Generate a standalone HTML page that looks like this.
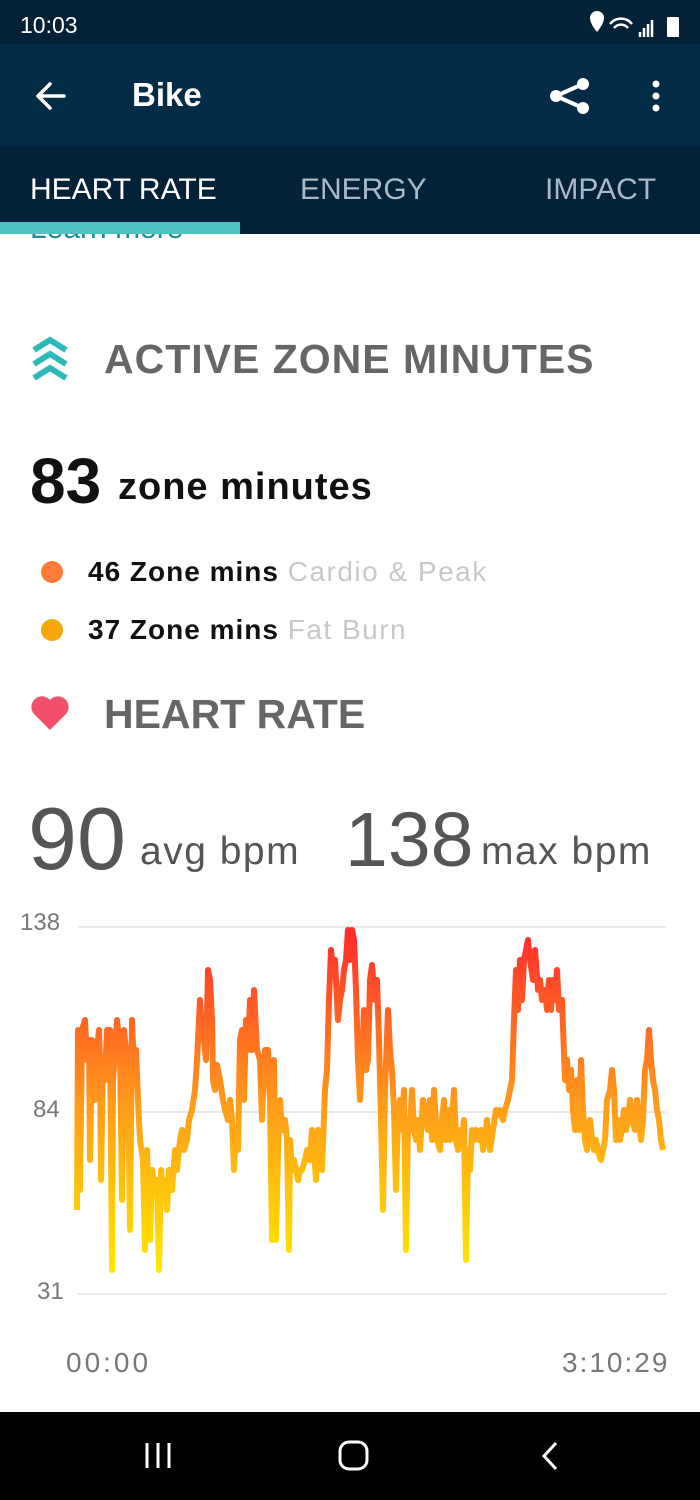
<!DOCTYPE html>
<html><head><meta charset="utf-8"><style>
*{margin:0;padding:0;box-sizing:border-box}
body{width:700px;height:1500px;background:#fff;font-family:"Liberation Sans",sans-serif;position:relative;overflow:hidden}
.abs{position:absolute;white-space:nowrap}
</style></head><body>
<div class="abs" style="left:0;top:0;width:700px;height:44px;background:#032238"></div>
<div class="abs" style="left:20px;top:12px;color:#fff;font-size:23px">10:03</div>
<div class="abs" style="left:0;top:44px;width:700px;height:102px;background:#022b45"></div>
<div class="abs" style="left:0;top:146px;width:700px;height:88px;background:#032238"></div>
<svg class="abs" style="left:0;top:0" width="700" height="240">
<path d="M38 96 H64 M38 96 L50 84 M38 96 L50 108" stroke="#fff" stroke-width="3.5" fill="none" stroke-linecap="round"/>
<path d="M583 84 L556 96 L583 108" stroke="#fff" stroke-width="4" fill="none"/>
<circle cx="583" cy="84" r="6" fill="#fff"/><circle cx="556" cy="96" r="6" fill="#fff"/><circle cx="583" cy="108" r="6" fill="#fff"/>
<circle cx="656" cy="84" r="3.5" fill="#fff"/><circle cx="656" cy="96" r="3.5" fill="#fff"/><circle cx="656" cy="108" r="3.5" fill="#fff"/>
<path d="M590 18 a7 7 0 0 1 14 0 c0 6 -7 14 -7 14 c0 0 -7 -8 -7 -14z" fill="#fff"/>
<rect x="667" y="17" width="12" height="20" rx="1" fill="#fff"/>
<path d="M640 37 V32 M644 37 V28 M648 37 V24 M652 37 V20" stroke="#fff" stroke-width="2.5"/>
<path d="M610 24 a14 14 0 0 1 22 0 M614 28 a9 9 0 0 1 14 0" stroke="#fff" stroke-width="2.5" fill="none"/>
<rect x="0" y="222" width="240" height="12" fill="#4ec3c3"/>
</svg>
<div class="abs" style="left:132px;top:76px;color:#fff;font-size:33px;font-weight:bold">Bike</div>
<div class="abs" style="left:30px;top:173px;color:#fff;font-size:30px">HEART RATE</div>
<div class="abs" style="left:300px;top:173px;color:#a9bac6;font-size:30px">ENERGY</div>
<div class="abs" style="left:545px;top:173px;color:#a9bac6;font-size:30px">IMPACT</div>
<div class="abs" style="left:30px;top:234px;width:170px;height:14px;overflow:hidden"><div style="margin-top:-22px;color:#1e8d8d;font-size:30px">Learn more</div></div>
<svg class="abs" style="left:30px;top:336px" width="42" height="46">
<path d="M4 14 L20 4 L36 14 M4 28 L20 18 L36 28 M4 42 L20 32 L36 42" stroke="#2bb9b9" stroke-width="6" fill="none"/>
</svg>
<div class="abs" style="left:104px;top:336px;color:#666;font-size:41px;font-weight:bold;letter-spacing:1px">ACTIVE ZONE MINUTES</div>
<div class="abs" style="left:30px;top:444px;color:#111;font-size:64px;font-weight:bold">83</div>
<div class="abs" style="left:118px;top:466px;color:#111;font-size:38px;font-weight:bold;letter-spacing:1px">zone minutes</div>
<div class="abs" style="left:41px;top:561px;width:22px;height:22px;border-radius:50%;background:#ff7b36"></div>
<div class="abs" style="left:88px;top:556px;color:#111;font-size:28px;font-weight:bold;letter-spacing:1px">46 Zone mins <span style="font-weight:normal;color:#c8c8c8;letter-spacing:1.5px">Cardio &amp; Peak</span></div>
<div class="abs" style="left:41px;top:619px;width:22px;height:22px;border-radius:50%;background:#f3a70a"></div>
<div class="abs" style="left:88px;top:614px;color:#111;font-size:28px;font-weight:bold;letter-spacing:1px">37 Zone mins <span style="font-weight:normal;color:#c8c8c8;letter-spacing:1.5px">Fat Burn</span></div>
<svg class="abs" style="left:30px;top:694px" width="42" height="40"><path d="M20 36 L4 20 A9 9 0 0 1 20 6 A9 9 0 0 1 36 20 Z" fill="#f2506a"/></svg>
<div class="abs" style="left:104px;top:691px;color:#666;font-size:41px;font-weight:bold">HEART RATE</div>
<div class="abs" style="left:28px;top:788px;color:#555;font-size:88px">90</div>
<div class="abs" style="left:140px;top:830px;color:#555;font-size:39px;letter-spacing:1.5px">avg bpm</div>
<div class="abs" style="left:345px;top:796px;color:#555;font-size:77px">138</div>
<div class="abs" style="left:481px;top:830px;color:#555;font-size:39px;letter-spacing:1.5px">max bpm</div>
<div class="abs" style="left:20px;top:909px;color:#777;font-size:24px">138</div>
<div class="abs" style="left:33px;top:1096px;color:#777;font-size:24px">84</div>
<div class="abs" style="left:37px;top:1278px;color:#777;font-size:24px">31</div>
<div class="abs" style="left:66px;top:1347px;color:#777;font-size:28px;letter-spacing:3px">00:00</div>
<div class="abs" style="left:562px;top:1347px;color:#777;font-size:28px;letter-spacing:2px">3:10:29</div>
<svg class="abs" style="left:0;top:0" width="700" height="1500">
<defs><linearGradient id="g" gradientUnits="userSpaceOnUse" x1="0" y1="935" x2="0" y2="1270"><stop offset="0" stop-color="#ff2d2d"/><stop offset="0.5" stop-color="#ff9a1a"/><stop offset="1" stop-color="#ffe800"/></linearGradient></defs>
<path d="M78 927 H666 M78 1112 H666 M78 1294 H666" stroke="#e2e2e2" stroke-width="1.5"/>
<polyline fill="none" stroke="url(#g)" stroke-width="6" stroke-linejoin="round" points="77,1210 78,1030 80,1190 82,1030 85,1020 87,1060 89,1040 90,1160 92,1040 95,1100 96,1060 99,1030 100,1060 101,1180 103,1060 105,1080 107,1030 110,1030 112,1270 113,1080 115,1050 117,1020 120,1050 122,1200 124,1030 126,1050 128,1070 130,1230 132,1020 134,1070 136,1050 138,1100 140,1140 143,1160 145,1250 147,1150 148,1180 150,1240 152,1170 155,1190 157,1180 159,1270 161,1170 163,1200 165,1180 167,1210 169,1170 172,1190 175,1150 177,1170 180,1140 182,1130 184,1150 187,1140 189,1120 192,1110 195,1090 197,1060 200,1000 202,1030 204,1040 206,1060 208,970 210,980 212,1020 213,1080 215,1090 217,1065 220,1080 223,1100 225,1110 228,1120 230,1100 232,1120 234,1170 236,1130 238,1150 240,1040 242,1030 244,1100 246,1020 248,1050 250,1000 252,1050 254,990 256,1030 257,1050 260,1060 262,1120 265,1050 268,1050 270,1100 272,1240 274,1060 276,1240 278,1150 280,1100 282,1130 285,1120 287,1140 289,1250 290,1140 292,1170 294,1160 298,1180 300,1170 302,1170 305,1160 307,1150 310,1160 312,1130 314,1150 316,1180 318,1130 320,1140 322,1170 325,1090 327,1070 329,1000 331,950 333,970 335,960 338,1020 340,1000 342,990 344,970 346,960 348,930 350,960 352,930 354,940 356,990 358,1060 360,1100 362,1060 364,1010 366,1070 368,1060 370,980 372,965 375,1000 377,980 379,1040 381,1120 383,1210 385,1090 388,1010 390,1050 392,1070 394,1110 396,1190 398,1110 400,1100 402,1130 404,1090 406,1250 408,1120 410,1130 412,1090 414,1130 416,1140 418,1120 420,1150 423,1100 425,1110 428,1130 430,1100 432,1140 434,1090 437,1140 440,1150 442,1120 444,1100 446,1140 448,1110 450,1140 452,1120 454,1090 456,1140 458,1150 460,1130 462,1140 464,1120 466,1260 468,1150 470,1170 472,1130 474,1140 476,1130 479,1140 481,1130 483,1150 485,1140 487,1120 490,1150 493,1130 496,1110 498,1115 500,1110 503,1120 505,1110 508,1100 510,1090 512,1080 514,1020 516,970 518,1010 520,960 522,1000 524,960 526,950 528,940 530,960 533,980 535,950 538,990 540,980 542,1000 545,990 547,1010 549,980 551,1010 553,980 555,1000 557,970 559,1010 560,1010 562,1000 565,1080 567,1060 569,1090 571,1070 573,1110 575,1130 577,1080 579,1130 581,1060 583,1110 585,1140 587,1150 590,1120 592,1140 594,1150 596,1140 599,1155 601,1160 603,1150 605,1140 607,1100 610,1090 612,1070 614,1090 616,1140 618,1120 620,1140 622,1130 624,1110 626,1130 628,1120 630,1100 632,1120 635,1130 637,1100 639,1120 641,1140 643,1120 645,1070 647,1060 649,1030 651,1060 653,1080 655,1090 657,1110 659,1120 661,1140 663,1150"/>
<rect x="0" y="1412" width="700" height="88" fill="#000"/>
<path d="M147 1443 V1468 M158 1443 V1468 M169 1443 V1468" stroke="#fff" stroke-width="3"/>
<rect x="340" y="1442" width="27" height="27" rx="9" stroke="#fff" stroke-width="3" fill="none"/>
<path d="M556 1443 L544 1456 L556 1469" stroke="#fff" stroke-width="3" fill="none"/>
</svg>
</body></html>
